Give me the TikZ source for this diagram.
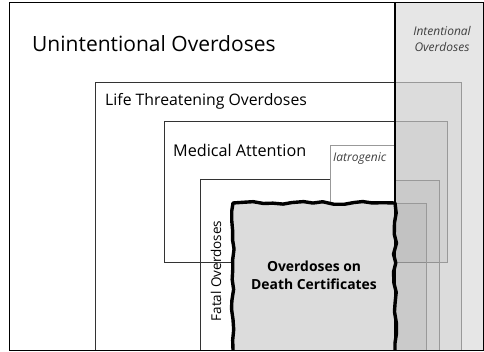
\documentclass[tikz,border=0pt]{standalone}
\usepackage{fontspec}
\setmainfont{Open Sans}
\usetikzlibrary{decorations.pathmorphing}
\definecolor{intbg}{HTML}{E6E6E6}
\definecolor{dcfill}{HTML}{DCDCDC}
\definecolor{boxline}{HTML}{333333}
\definecolor{lightline}{HTML}{999999}
\tikzset{
  frameline/.style={draw=boxline, line width=0.9pt},
  paleline/.style={draw=lightline, line width=0.7pt},
  overlay/.style={fill=black, fill opacity=0.04, draw=lightline, draw opacity=1, line width=0.7pt},
  lbl/.style={inner sep=0pt, anchor=west, text=black},
  ital/.style={font=\fontsize{12}{14}\selectfont\itshape, text=black!75},
  wavy/.style={decorate, decoration={random steps, segment length=10pt, amplitude=1.5pt}, line width=3.4pt, line join=round}
}
\begin{document}
\begin{tikzpicture}[x=1pt,y=-1pt]
\useasboundingbox (0,0) rectangle (484,352);
\fill[white] (0,0) rectangle (484,352);
% intentional region
\fill[intbg] (395,3) rectangle (483,350);
\path[overlay] (395,82) rectangle (461,350);
\path[overlay] (395,121) rectangle (447,262);
\path[overlay] (395,180) rectangle (439,350);
\path[overlay] (395,203) rectangle (426,350);
% unintentional boxes
\draw[frameline] (95,82) rectangle (395,350);
\draw[frameline] (164,121) rectangle (395,262);
\draw[paleline,fill=white] (330,145) rectangle (395,205);
\draw[frameline] (200,179) -- (330,179);
\draw[frameline] (200,179) -- (200,350);
% death certificates
\fill[dcfill] (233,203) rectangle (395,350);
\pgfmathsetseed{7}
\draw[wavy] (233,350) -- (233,203) -- (395,203) -- (395,350);
% thick divider and frame
\draw[line width=2pt] (395,3) -- (395,350);
\draw[line width=1pt] (9,3) rectangle (483,350);
% labels
\node[lbl, font=\fontsize{21}{24}\selectfont] (unint) at (32,44) {Unintentional Overdoses};
\node[lbl, font=\fontsize{15.8}{18}\selectfont] (life) at (105,101) {Life Threatening Overdoses};
\node[lbl, font=\fontsize{16.2}{18}\selectfont] (med) at (173,150) {Medical Attention};
\node[lbl, ital] (iat) at (333,159) {Iatrogenic};
\node[ital, align=center, inner sep=0pt] (intent) at (442,39) {Intentional\\[2pt]Overdoses};
\node[font=\fontsize{13.5}{17}\selectfont, rotate=90, inner sep=0pt] (fatal) at (216,271) {Fatal Overdoses};
\node[font=\fontsize{13.9}{18}\selectfont\bfseries, align=center, inner sep=0pt] (dc) at (314,275) {Overdoses on\\Death Certificates};
\end{tikzpicture}
\end{document}
